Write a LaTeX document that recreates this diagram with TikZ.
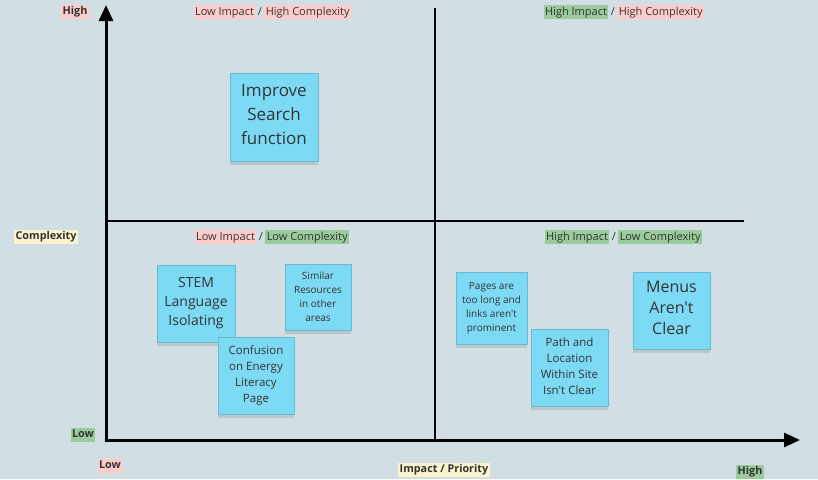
\documentclass[tikz,border=0pt]{standalone}
\usepackage{fontspec}
\setmainfont{Open Sans}[Ligatures=TeXOff]
\usetikzlibrary{arrows.meta,shadows,positioning}
\definecolor{board}{HTML}{D1DFE4}
\definecolor{sticky}{HTML}{7DDAF5}
\definecolor{tagred}{HTML}{FFCCCC}
\definecolor{taggreen}{HTML}{9ACB9A}
\definecolor{tagyellow}{HTML}{FBF2CF}
\definecolor{ink}{HTML}{333333}
\tikzstyle{note}=[rectangle,fill=sticky,draw=sticky!85!black,line width=0.4pt,align=center,text=ink,inner sep=0pt,drop shadow={shadow xshift=0pt,shadow yshift=-4pt,opacity=0.25}]
\tikzstyle{tag}=[inner sep=1.5pt,text height=8.5pt,text depth=2.5pt,font=\fontsize{11}{13}\selectfont,text=ink]
\tikzstyle{key}=[inner sep=1.5pt,text height=8.5pt,text depth=3pt,font=\fontsize{10.8}{13}\selectfont\bfseries,text=ink]
\tikzstyle{axis}=[draw,line width=3pt,-{Triangle[length=16pt,width=14pt]}]
\tikzstyle{divider}=[draw,line width=2.5pt,-]

\begin{document}
\begin{tikzpicture}[x=1pt,y=-1pt]
        \fill[board] (0,0) rectangle (818,479);
        \useasboundingbox (0,0) rectangle (818,479);
        % axes and quadrant lines
        \coordinate (o) at (106,440);
        \coordinate (ytop) at (106,5);
        \coordinate (xend) at (800,440);
        \coordinate (vtop) at (435,8);
        \coordinate (vbot) at (435,440);
        \coordinate (hl) at (106,221);
        \coordinate (hr) at (744,221);
        \path[divider] (vtop) -- (vbot);
        \path[divider] (hl) -- (hr);
        \path[axis] (o) -- (ytop);
        \path[axis] ([xshift=-1.5pt]o) -- (xend);
        % axis labels
        \node[key,fill=tagred] (yhigh) at (75,12) {High};
        \node[key,fill=tagyellow] (ylab) at (46,237) {Complexity};
        \node[key,fill=taggreen] (ylow) at (83,435) {Low};
        \node[key,fill=tagred] (xlow) at (110,466) {Low};
        \node[key,fill=tagyellow] (xlab) at (444,470) {Impact / Priority};
        \node[key,fill=taggreen] (xhigh) at (750,472) {High};
        % quadrant titles
        \node[tag,fill=tagred] (q1a) at (224.5,12) {Low Impact};
        \node[tag] (q1s) [right=0.5pt of q1a] {/};
        \node[tag,fill=tagred] (q1b) [right=0.5pt of q1s] {High Complexity};
        \node[tag,fill=taggreen] (q2a) at (576,12) {High Impact};
        \node[tag] (q2s) [right=0.5pt of q2a] {/};
        \node[tag,fill=tagred] (q2b) [right=0.5pt of q2s] {High Complexity};
        \node[tag,fill=tagred] (q3a) at (225.5,237) {Low Impact};
        \node[tag] (q3s) [right=0.5pt of q3a] {/};
        \node[tag,fill=taggreen] (q3b) [right=0.5pt of q3s] {Low Complexity};
        \node[tag,fill=taggreen] (q4a) at (577,237) {High Impact};
        \node[tag] (q4s) [right=0.5pt of q4a] {/};
        \node[tag,fill=taggreen] (q4b) [right=0.5pt of q4s] {Low Complexity};
        % sticky notes
        \node[note,minimum width=88pt,minimum height=88pt,font=\fontsize{17}{24}\selectfont] (search) at (274,117) {Improve\\Search\\function\\[-18pt]};
        \node[note,minimum width=78pt,minimum height=77pt,font=\fontsize{14}{19}\selectfont] (stem) at (196,303.5) {STEM\\Language\\Isolating\\[-14pt]};
        \node[note,minimum width=66pt,minimum height=66pt,font=\fontsize{10}{14}\selectfont] (similar) at (318,297) {Similar\\Resources\\in other\\areas};
        \node[note,minimum width=76pt,minimum height=77pt,font=\fontsize{11.5}{16}\selectfont] (energy) at (256,375.5) {Confusion\\on Energy\\Literacy\\Page\\[-14pt]};
        \node[note,minimum width=71pt,minimum height=72pt,font=\fontsize{10}{14}\selectfont] (pages) at (491.5,308) {Pages are\\too long and\\links aren't\\prominent};
        \node[note,minimum width=77pt,minimum height=77pt,font=\fontsize{11.5}{16}\selectfont] (path) at (569.5,367.5) {Path and\\Location\\Within Site\\Isn't Clear\\[-14pt]};
        \node[note,minimum width=77pt,minimum height=77pt,font=\fontsize{16}{21}\selectfont] (menus) at (671.5,310.5) {Menus\\Aren't\\Clear\\[-15pt]};
    \end{tikzpicture}
\end{document}
